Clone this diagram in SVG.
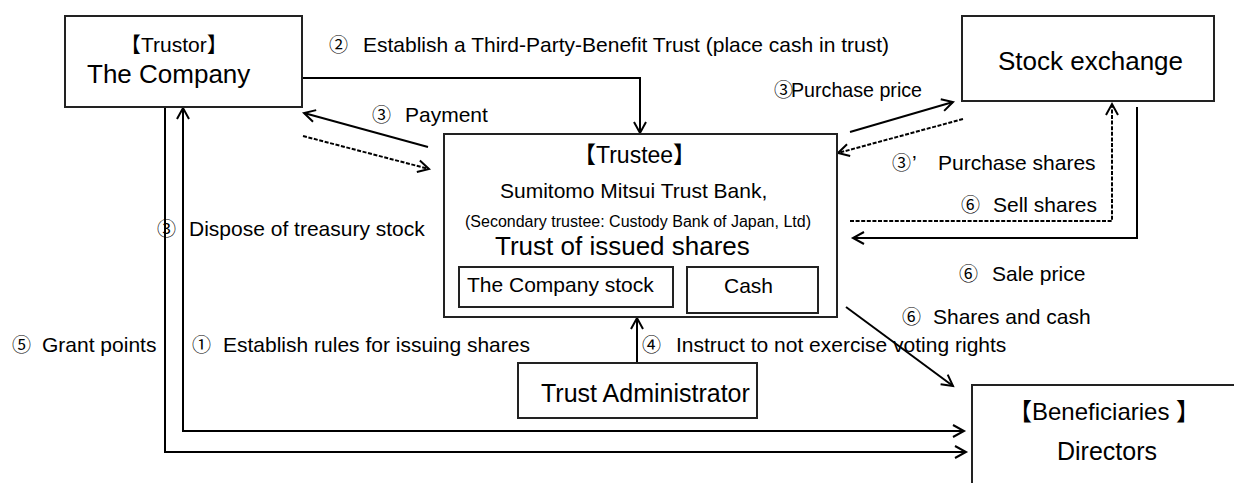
<svg xmlns="http://www.w3.org/2000/svg" width="1234" height="483" viewBox="0 0 1234 483">
  <defs>
    <marker id="arr" markerUnits="userSpaceOnUse" markerWidth="14" markerHeight="14" refX="11" refY="6" orient="auto-start-reverse" overflow="visible">
      <path d="M0,0 L11,6 L0,12" fill="none" stroke="#000" stroke-width="2"/>
    </marker>
    <style>
      text { font-family: "Liberation Sans", "Noto Sans CJK JP", sans-serif; fill: #000; }
      .box { fill: #fff; stroke: #222; stroke-width: 2; }
      .ln { fill: none; stroke: #000; stroke-width: 2; }
      .dash { stroke-dasharray: 4 1.6; }
      .lbl { font-size: 21px; }
      .num { font-family: "Noto Sans CJK JP", sans-serif; font-size: 19px; }
    </style>
  </defs>

  <rect width="1234" height="483" fill="#fff"/>

  <!-- connectors -->
  <g id="connectors">
    <polyline class="ln" points="302,78 640,78 640,133" marker-end="url(#arr)"/>
    <line class="ln" x1="428" y1="147" x2="304" y2="113" marker-end="url(#arr)"/>
    <line class="ln dash" x1="303" y1="136" x2="429" y2="169" marker-end="url(#arr)"/>
    <line class="ln" x1="850" y1="132" x2="953" y2="102" marker-end="url(#arr)"/>
    <line class="ln dash" x1="963" y1="119" x2="838" y2="153" marker-end="url(#arr)"/>
    <polyline class="ln dash" points="850,221 1112,221 1112,104" marker-end="url(#arr)"/>
    <polyline class="ln" points="1137,107 1137,238 853,238" marker-end="url(#arr)"/>
    <line class="ln" x1="637" y1="363" x2="637" y2="318" marker-end="url(#arr)"/>
    <line class="ln" x1="846" y1="307" x2="953" y2="386" stroke-width="1.6" marker-end="url(#arr)"/>
    <polyline class="ln" points="183,108 183,431 964,431" marker-start="url(#arr)" marker-end="url(#arr)"/>
    <polyline class="ln" points="165,107 165,452 966,452" marker-end="url(#arr)"/>
  </g>

  <!-- connector labels -->
  <g id="labels" class="lbl">
    <text y="52"><tspan class="num" x="329">②</tspan><tspan x="363">Establish a Third-Party-Benefit Trust (place cash in trust)</tspan></text>
    <text y="122"><tspan class="num" x="372">③</tspan><tspan x="405">Payment</tspan></text>
    <text y="97"><tspan class="num" x="774">③</tspan><tspan x="791" textLength="131" lengthAdjust="spacingAndGlyphs">Purchase price</tspan></text>
    <text y="170"><tspan class="num" x="892">③</tspan><tspan x="912">’</tspan><tspan x="938">Purchase shares</tspan></text>
    <text y="212"><tspan class="num" x="961">⑥</tspan><tspan x="993">Sell shares</tspan></text>
    <text y="281"><tspan class="num" x="959">⑥</tspan><tspan x="992">Sale price</tspan></text>
    <text y="324"><tspan class="num" x="902">⑥</tspan><tspan x="933">Shares and cash</tspan></text>
    <text y="352"><tspan class="num" x="642">④</tspan><tspan x="676">Instruct to not exercise voting rights</tspan></text>
    <text y="352"><tspan class="num" x="12">⑤</tspan><tspan x="42">Grant points</tspan></text>
    <text y="352"><tspan class="num" x="192">①</tspan><tspan x="223">Establish rules for issuing shares</tspan></text>
    <text y="236"><tspan class="num" x="157">③</tspan><tspan x="189">Dispose of treasury stock</tspan></text>
  </g>

  <!-- trustor -->
  <g id="trustor">
    <rect class="box" x="65" y="16" width="237" height="91"/>
    <text x="120" y="52" font-size="21">【Trustor】</text>
    <text x="87" y="83" font-size="26">The Company</text>
  </g>

  <!-- stock exchange -->
  <g id="stock-exchange">
    <rect class="box" x="962" y="16" width="252" height="85"/>
    <text x="998" y="70" font-size="26">Stock exchange</text>
  </g>

  <!-- trustee -->
  <g id="trustee">
    <rect class="box" x="444" y="134" width="393" height="183"/>
    <text x="573" y="163" font-size="23">【Trustee】</text>
    <text x="500" y="198" font-size="21">Sumitomo Mitsui Trust Bank,</text>
    <text x="465" y="227" font-size="16">(Secondary trustee: Custody Bank of Japan, Ltd)</text>
    <text x="495" y="255" font-size="26">Trust of issued shares</text>
    <g id="company-stock">
      <rect class="box" x="459" y="267" width="214" height="40"/>
      <text x="467" y="292" font-size="21">The Company stock</text>
    </g>
    <g id="cash">
      <rect class="box" x="687" y="267" width="131" height="46"/>
      <text x="724" y="293" font-size="21">Cash</text>
    </g>
  </g>

  <!-- trust administrator -->
  <g id="trust-administrator">
    <rect class="box" x="518" y="363" width="239" height="55"/>
    <text x="541" y="402" font-size="25">Trust Administrator</text>
  </g>

  <!-- beneficiaries -->
  <g id="beneficiaries">
    <rect class="box" x="972" y="385" width="280" height="120"/>
    <text x="1008" y="420" font-size="24">【Beneficiaries 】</text>
    <text x="1057" y="460" font-size="25">Directors</text>
  </g>
</svg>
